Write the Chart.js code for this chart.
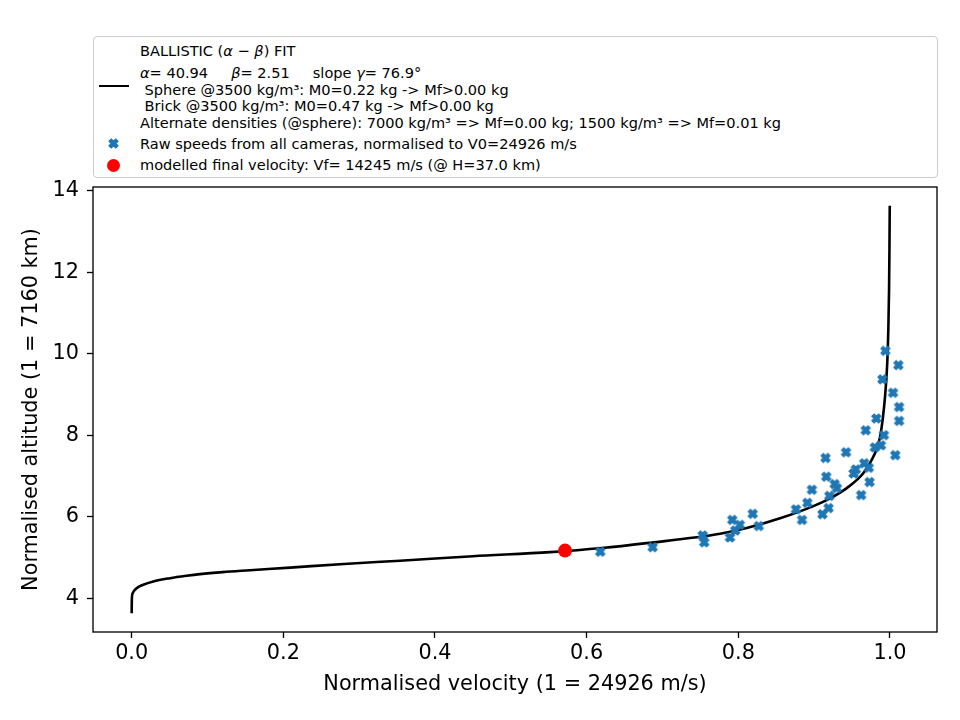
<!DOCTYPE html>
<html>
<head>
<meta charset="utf-8">
<title>Ballistic fit</title>
<script src="https://cdn.jsdelivr.net/npm/chart.js@4.4.1/dist/chart.umd.min.js"></script>
<style>
  html, body { margin: 0; padding: 0; background: #fff; }
  #wrap { position: relative; width: 960px; height: 720px; }
  #legend {
    position: absolute; left: 93px; top: 36px; width: 843px; height: 140px;
    border: 1.3px solid #cccccc; border-radius: 4px; background: #fff;
    font-family: "DejaVu Sans", sans-serif; font-size: 14.55px; color: #000;
  }
  #legend .row { position: absolute; white-space: pre; line-height: 17px; height: 17px; }
  #legend .handle { position: absolute; }
</style>
</head>
<body>
<div id="wrap">
  <canvas id="chart" width="960" height="720"></canvas>
  <div id="legend"></div>
</div>
<script>
// model curve (normalised velocity, normalised altitude)
const fitVelocity = [0.0, 0.0002, 0.0013, 0.0066, 0.0153, 0.0285, 0.0505, 0.0725, 0.090, 0.120,
  0.156, 0.209, 0.28, 0.354, 0.45, 0.552, 0.62, 0.679, 0.776, 0.811, 0.855, 0.899, 0.921,
  0.943, 0.965, 0.978, 0.987, 0.9935, 0.9964, 0.9978, 0.9988, 0.9993, 0.9997];
const fitAltitude = [3.63, 3.96, 4.12, 4.245, 4.33, 4.41, 4.49, 4.55, 4.59, 4.64,
  4.685, 4.75, 4.84, 4.92, 5.03, 5.13, 5.23, 5.35, 5.58, 5.72, 5.96, 6.26, 6.45,
  6.70, 7.07, 7.47, 7.96, 8.95, 9.77, 10.58, 11.6, 12.6, 13.63];

// raw camera speeds
const rawVelocity = [0.618, 0.687, 0.753, 0.755, 0.789, 0.792, 0.796, 0.802, 0.819, 0.827,
  0.876, 0.884, 0.891, 0.897, 0.911, 0.919, 0.920, 0.916, 0.915, 0.927, 0.930, 0.942,
  0.952, 0.955, 0.962, 0.966, 0.972, 0.973, 0.968, 0.980, 0.988, 0.992, 0.982, 1.012,
  1.007, 0.994, 1.011, 0.990, 1.004, 1.012];
const rawAltitude = [5.14, 5.25, 5.54, 5.37, 5.49, 5.92, 5.66, 5.80, 6.07, 5.77,
  6.18, 5.92, 6.34, 6.66, 6.06, 6.21, 6.51, 6.98, 7.44, 6.80, 6.70, 7.58,
  7.06, 7.16, 6.53, 7.31, 7.20, 6.85, 8.12, 7.70, 7.75, 8.00, 8.41, 8.35,
  7.51, 10.07, 9.72, 9.37, 9.04, 8.69];

const finalVelocity = [0.5715];
const finalAltitude = [5.168];

const xTicks = [0, 0.2, 0.4, 0.6, 0.8, 1.0];
const xTickLabels = ['0.0', '0.2', '0.4', '0.6', '0.8', '1.0'];
const yTicks = [4, 6, 8, 10, 12, 14];
const yTickLabels = ['4', '6', '8', '10', '12', '14'];

const fitLabel = [
  'BALLISTIC (<i>α</i> − <i>β</i>) FIT',
  '<i>α</i>= 40.94     <i>β</i>= 2.51     slope <i>γ</i>= 76.9°',
  ' Sphere @3500 kg/m³: M0=0.22 kg -> Mf>0.00 kg',
  ' Brick @3500 kg/m³: M0=0.47 kg -> Mf>0.00 kg',
  'Alternate densities (@sphere): 7000 kg/m³ => Mf=0.00 kg; 1500 kg/m³ => Mf=0.01 kg'
];
const rawLabel = 'Raw speeds from all cameras, normalised to V0=24926 m/s';
const finalLabel = 'modelled final velocity: Vf= 14245 m/s (@ H=37.0 km)';

const BLUE = '#1f77b4';
const FONT = 'DejaVu Sans';
const FSIZE = 20.8;

// filled "X" marker like matplotlib's
function makeXMarker(size) {
  const c = document.createElement('canvas');
  const pad = 2;
  c.width = c.height = size + pad * 2;
  const g = c.getContext('2d');
  const m = c.width / 2;
  const pts = [[0.25, 0], [0.5, 0.25], [0.25, 0.5], [0, 0.25], [-0.25, 0.5], [-0.5, 0.25],
    [-0.25, 0], [-0.5, -0.25], [-0.25, -0.5], [0, -0.25], [0.25, -0.5], [0.5, -0.25]];
  g.beginPath();
  pts.forEach(([px, py], i) => {
    const x = m + px * size, y = m + py * size;
    if (i === 0) g.moveTo(x, y); else g.lineTo(x, y);
  });
  g.closePath();
  g.fillStyle = BLUE;
  g.strokeStyle = BLUE;
  g.lineWidth = 1.2;
  g.fill();
  g.stroke();
  return c;
}
const xMarker = makeXMarker(9);

const zip = (xs, ys) => xs.map((x, i) => ({ x: x, y: ys[i] }));

const frame = {
  id: 'frame',
  afterDraw(chart) {
    const { ctx, chartArea: a } = chart;
    ctx.save();
    ctx.strokeStyle = '#000';
    ctx.lineWidth = 1.33;
    ctx.strokeRect(a.left, a.top, a.right - a.left, a.bottom - a.top);
    ctx.restore();
  }
};

const ctx = document.getElementById('chart').getContext('2d');
const chart = new Chart(ctx, {
  type: 'scatter',
  data: {
    datasets: [
      {
        label: fitLabel.join('\n'),
        data: zip(fitVelocity, fitAltitude),
        showLine: true,
        pointRadius: 0,
        borderColor: '#000',
        borderWidth: 2.6,
        cubicInterpolationMode: 'monotone',
        order: 3
      },
      {
        label: rawLabel,
        data: zip(rawVelocity, rawAltitude),
        pointStyle: xMarker,
        pointRadius: 5,
        backgroundColor: BLUE,
        borderColor: BLUE,
        order: 2
      },
      {
        label: finalLabel,
        data: zip(finalVelocity, finalAltitude),
        pointRadius: 7,
        backgroundColor: '#ff0000',
        borderColor: '#ff0000',
        borderWidth: 0,
        order: 1
      }
    ]
  },
  options: {
    responsive: false,
    animation: false,
    layout: { padding: { top: 187, right: 23, left: 0, bottom: 0 } },
    plugins: { legend: { display: false }, tooltip: { enabled: false } },
    scales: {
      x: {
        type: 'linear',
        min: -0.051,
        max: 1.062,
        border: { display: false },
        grid: { drawOnChartArea: false, drawTicks: true, tickLength: 6, tickColor: '#000', tickWidth: 1.33 },
        afterBuildTicks: s => { s.ticks = xTicks.map(v => ({ value: v })); },
        afterFit: s => { s.height = 88; },
        ticks: {
          autoSkip: false, maxRotation: 0, padding: 3.5, color: '#000',
          font: { family: FONT, size: FSIZE },
          callback: (v, i) => xTickLabels[i]
        },
        title: {
          display: true, text: 'Normalised velocity (1 = 24926 m/s)', color: '#000',
          font: { family: FONT, size: FSIZE }, padding: { top: 0, bottom: 22.5 }
        }
      },
      y: {
        type: 'linear',
        min: 3.17,
        max: 14.09,
        border: { display: false },
        grid: { drawOnChartArea: false, drawTicks: true, tickLength: 6, tickColor: '#000', tickWidth: 1.33 },
        afterBuildTicks: s => { s.ticks = yTicks.map(v => ({ value: v })); },
        afterFit: s => { s.width = 93; },
        ticks: {
          autoSkip: false, padding: 8, color: '#000',
          font: { family: FONT, size: FSIZE },
          callback: (v, i) => yTickLabels[i]
        },
        title: {
          display: true, text: 'Normalised altitude (1 = 7160 km)', color: '#000',
          font: { family: FONT, size: FSIZE }, padding: { top: 19, bottom: 0 }
        }
      }
    }
  },
  plugins: [frame]
});

// legend box, built from the dataset labels
const legend = document.getElementById('legend');
const rowCentres = [14, 36, 53, 69, 86];
const lines = chart.data.datasets[0].label.split('\n');
lines.forEach((txt, i) => {
  const d = document.createElement('div');
  d.className = 'row';
  d.style.left = '46px';
  d.style.top = (rowCentres[i] - 9.5) + 'px';
  d.innerHTML = txt;
  legend.appendChild(d);
});
const lineHandle = document.createElement('div');
lineHandle.className = 'handle';
Object.assign(lineHandle.style, { left: '5px', top: '47.5px', width: '30px', height: '2.6px', background: '#000' });
legend.appendChild(lineHandle);

[[chart.data.datasets[1].label, 107], [chart.data.datasets[2].label, 128.5]].forEach(([txt, cy]) => {
  const d = document.createElement('div');
  d.className = 'row';
  d.style.left = '46px';
  d.style.top = (cy - 9.5) + 'px';
  d.textContent = txt;
  legend.appendChild(d);
});
const xImg = document.createElement('img');
xImg.src = xMarker.toDataURL();
xImg.className = 'handle';
Object.assign(xImg.style, { left: (19 - xMarker.width / 2) + 'px', top: (106 - xMarker.height / 2) + 'px' });
legend.appendChild(xImg);
const dot = document.createElement('div');
dot.className = 'handle';
Object.assign(dot.style, { left: '12.5px', top: '121.5px', width: '13px', height: '13px', borderRadius: '50%', background: '#ff0000' });
legend.appendChild(dot);
</script>
</body>
</html>
